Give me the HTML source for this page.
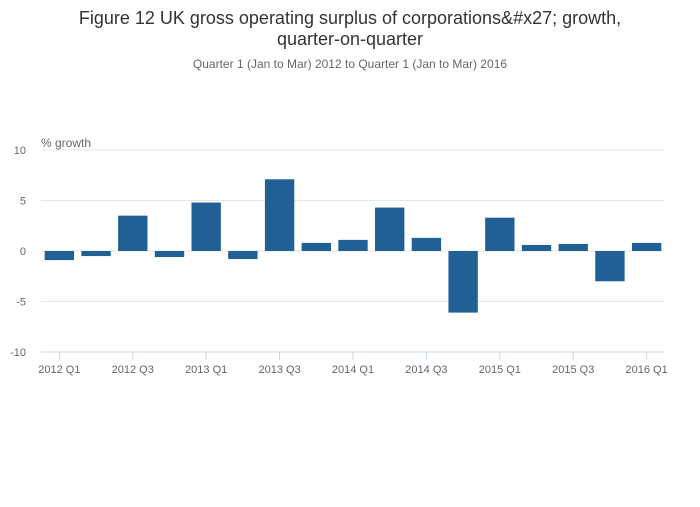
<!DOCTYPE html>
<html><head><meta charset="utf-8"><style>
body{margin:0;background:#fff;font-family:"Liberation Sans",sans-serif}
</style></head><body>
<svg width="700" height="502" xmlns="http://www.w3.org/2000/svg">
<text x="350" y="24" text-anchor="middle" font-size="18" fill="#333">Figure 12 UK gross operating surplus of corporations&amp;#x27; growth,</text>
<text x="350" y="45" text-anchor="middle" font-size="18" fill="#333">quarter-on-quarter</text>
<text x="350" y="68" text-anchor="middle" font-size="12" fill="#666">Quarter 1 (Jan to Mar) 2012 to Quarter 1 (Jan to Mar) 2016</text>
<text x="41" y="147" font-size="12" fill="#666">% growth</text>
<g id="grid"></g><g id="bars"></g><g id="xaxis"></g>
</svg>
<script>
const categories=["2012 Q1","2012 Q2","2012 Q3","2012 Q4","2013 Q1","2013 Q2","2013 Q3","2013 Q4","2014 Q1","2014 Q2","2014 Q3","2014 Q4","2015 Q1","2015 Q2","2015 Q3","2015 Q4","2016 Q1"];
const values=[-0.9,-0.5,3.5,-0.6,4.8,-0.8,7.1,0.8,1.1,4.3,1.3,-6.1,3.3,0.6,0.7,-3.0,0.8];
const yTicks=[10,5,0,-5,-10];
const NS="http://www.w3.org/2000/svg";
const L=41,R=665,T=150,B=352;
const y=v=>T+(10-v)*(B-T)/20;
const band=(R-L)/categories.length;
const x=i=>L+i*band;
function mk(t,a){const e=document.createElementNS(NS,t);for(const k in a)e.setAttribute(k,a[k]);return e;}
const grid=document.getElementById('grid');
yTicks.forEach(v=>{
 const l=mk('line',{x1:L,x2:R,y1:y(v),y2:y(v),stroke:v===-10?'#ccd6eb':'#e6e6e6','stroke-width':1});
 
 
 grid.appendChild(l);
 const t=mk('text',{x:26,y:y(v)+4,'text-anchor':'end','font-size':11,fill:'#666'});
 t.textContent=v;
 
 
 grid.appendChild(t);
});
const bars=document.getElementById('bars');
values.forEach((v,i)=>{
 const w=band*0.8;
 const r=mk('rect',{x:x(i)+band*0.1,width:w,y:Math.min(y(v),y(0)),height:Math.abs(y(v)-y(0)),fill:'#206095'});
 
 
 bars.appendChild(r);
});
const xa=document.getElementById('xaxis');
categories.forEach((c,i)=>{
 if(i%2)return;
 const cx=x(i)+band/2;
 const tk=mk('line',{x1:cx,x2:cx,y1:B,y2:B+8,stroke:'#ccd6eb'});
 
 
 xa.appendChild(tk);
 const t=mk('text',{x:cx,y:B+21,'text-anchor':'middle','font-size':11,fill:'#666'});
 t.textContent=c;
 
 
 xa.appendChild(t);
});
</script>
</body></html>
